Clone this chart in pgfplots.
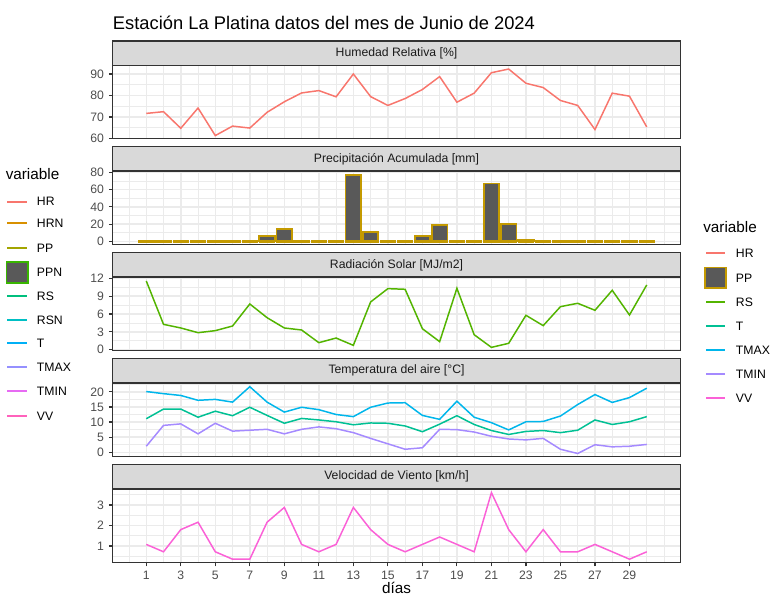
\documentclass[border=0pt]{standalone}
\usepackage{pgfplots}
\pgfplotsset{compat=1.18}
\usepackage{pgfplotstable}
\usepackage{fontspec}
\setmainfont{Liberation Sans}

% ggplot-style greys
\definecolor{grey92}{HTML}{EBEBEB}
\definecolor{grey85}{HTML}{D9D9D9}
\definecolor{grey35}{HTML}{595959}
\definecolor{grey30}{HTML}{4D4D4D}
\definecolor{grey20}{HTML}{333333}
\definecolor{grey10}{HTML}{1A1A1A}
% series colours (7-hue palette)
\definecolor{cHR}{HTML}{F8766D}
\definecolor{cPP}{HTML}{C49A00}
\definecolor{cRS}{HTML}{53B400}
\definecolor{cT}{HTML}{00C094}
\definecolor{cTMAX}{HTML}{00B6EB}
\definecolor{cTMIN}{HTML}{A58AFF}
\definecolor{cVV}{HTML}{FB61D7}
% left legend colours (10-hue palette)
\definecolor{lHR}{HTML}{F8766D}
\definecolor{lHRN}{HTML}{D89000}
\definecolor{lPP}{HTML}{A3A500}
\definecolor{lPPN}{HTML}{39B600}
\definecolor{lRS}{HTML}{00BF7D}
\definecolor{lRSN}{HTML}{00BFC4}
\definecolor{lT}{HTML}{00B0F6}
\definecolor{lTMAX}{HTML}{9590FF}
\definecolor{lTMIN}{HTML}{E76BF3}
\definecolor{lVV}{HTML}{FF62BC}

\newcommand{\pxu}{0.72pt}

% daily values, June 2024
\pgfplotstableread{
dia HR   PP   RS    T    TMAX TMIN VV
1   71.7 0    11.55 11.1 20.1 2.0  1.08
2   72.5 0    4.26  14.3 19.4 8.9  0.72
3   64.8 0    3.65  14.3 18.8 9.4  1.80
4   74.2 0    2.86  11.6 17.2 6.1  2.16
5   61.4 0    3.20  13.6 17.5 9.6  0.72
6   65.8 0    3.98  12.1 16.6 7.0  0.36
7   64.9 0    7.68  14.9 21.7 7.3  0.36
8   72.2 6.5  5.38  12.2 16.6 7.6  2.16
9   77.1 14.2 3.65  9.6  13.3 6.1  2.88
10  81.2 0    3.31  11.2 14.9 7.6  1.08
11  82.3 0    1.18  10.7 14.1 8.4  0.72
12  79.4 0    1.96  10.1 12.5 7.8  1.08
13  90.0 76.9 0.73  9.1  11.8 6.5  2.88
14  79.5 10.8 8.02  9.7  14.9 4.6  1.80
15  75.4 0    10.26 9.6  16.3 2.8  1.08
16  78.6 0    10.15 8.7  16.4 1.0  0.72
17  82.8 6.5  3.53  6.8  12.2 1.5  1.08
18  88.8 18.8 1.35  9.3  10.9 7.6  1.44
19  76.9 0    10.32 12.1 16.9 7.5  1.08
20  81.1 0    2.52  9.2  11.6 6.7  0.72
21  90.6 66.9 0.39  7.2  9.8  5.3  3.60
22  92.3 20.0 1.07  5.9  7.4  4.4  1.80
23  85.7 1.5  5.78  6.9  10.1 4.1  0.72
24  83.7 0    4.04  7.2  10.2 4.6  1.80
25  77.7 0    7.23  6.5  12.0 1.0  0.72
26  75.4 0    7.80  7.3  15.8 -0.4 0.72
27  64.2 0    6.62  10.7 19.1 2.5  1.08
28  81.1 0    9.98  9.2  16.5 1.8  0.72
29  79.7 0    5.83  10.1 18.1 2.0  0.36
30  65.4 0    10.88 11.8 21.2 2.6  0.72
}\datos

\pgfplotsset{
  panel/.style={
    anchor=north west,
    scale only axis, width=408.67pt, height=52.70pt,
    xmin=-0.945, xmax=31.945,
    xtick={1,3,...,29}, minor xtick={0,2,...,30,31},
    grid=both,
    major grid style={draw=grey92, line width=1.07pt},
    minor grid style={draw=grey92, line width=0.53pt},
    axis line style={draw=grey20, line width=0.85pt},
    tick align=outside, ytick pos=left, xtick pos=left,
    major tick length=2.75pt, minor tick length=0pt,
    tick style={draw=grey20, line width=0.85pt},
    tick label style={font=\fontsize{8.8}{10}\selectfont, text=grey30},
    /pgf/number format/assume math mode=true,
    every axis title/.style={at={(0.5,1)}, anchor=south, draw=grey20,
      fill=grey85, line width=0.85pt, minimum width=408.67pt,
      minimum height=17.42pt, inner sep=0pt, text=grey10,
      font=\fontsize{8.8}{10}\selectfont},
    every axis plot/.append style={line width=1.07pt},
  },
  inner/.style={xticklabels={}, xtick style={draw=none}},
}

\begin{document}
\begin{tikzpicture}
\path[use as bounding box] (0,0) rectangle (772*\pxu,-596*\pxu);

\node[anchor=base west, inner sep=0pt, font=\fontsize{13.2}{16}\selectfont]
  at (112.7*\pxu,-29.3*\pxu) {Estación La Platina datos del mes de Junio de 2024};

% Humedad relativa
\begin{axis}[panel, inner, at={(112.7*\pxu,-65.7*\pxu)},
  title={Humedad Relativa [\%]},
  ymin=59.86, ymax=93.85, ytick={60,70,80,90}, minor ytick={65,75,85}]
\addplot[cHR] table[x=dia, y=HR] {\datos};
\end{axis}

% Precipitación: rainy-day bars, and the gold base edge of every day's bar
\begin{axis}[panel, inner, at={(112.7*\pxu,-171.6*\pxu)},
  title={Precipitación Acumulada [mm]},
  ymin=-3.85, ymax=80.75, ytick={0,20,...,80}, minor ytick={10,30,50,70},
  unbounded coords=discard]
\addplot[cPP, only marks, mark=square*, mark size=5.4pt,
  mark options={fill=cPP, draw=none, yscale=0.13}]
  table[x=dia, y expr=0] {\datos};
\addplot[ybar, bar width=0.9, fill=grey35, draw=cPP, line width=1.3pt,
  y filter/.expression={y==0 ? nan : y}] table[x=dia, y=PP] {\datos};
\end{axis}

% Radiación solar
\begin{axis}[panel, inner, at={(112.7*\pxu,-277.5*\pxu)},
  title={Radiación Solar [MJ/m2]},
  ymin=-0.17, ymax=12.13, ytick={0,3,...,12}, minor ytick={1.5,4.5,7.5,10.5}]
\addplot[cRS] table[x=dia, y=RS] {\datos};
\end{axis}

% Temperatura
\begin{axis}[panel, inner, at={(112.7*\pxu,-383.4*\pxu)},
  title={Temperatura del aire [°C]},
  ymin=-1.43, ymax=22.79, ytick={0,5,...,20}, minor ytick={2.5,7.5,12.5,17.5,22.5}]
\addplot[cT] table[x=dia, y=T] {\datos};
\addplot[cTMAX] table[x=dia, y=TMAX] {\datos};
\addplot[cTMIN] table[x=dia, y=TMIN] {\datos};
\end{axis}

% Viento
\begin{axis}[panel, at={(112.7*\pxu,-489.3*\pxu)},
  title={Velocidad de Viento [km/h]},
  ymin=0.198, ymax=3.762, ytick={1,2,3}, minor ytick={0.5,1.5,2.5,3.5},
  xlabel={días}, xlabel style={font=\fontsize{11}{13}\selectfont, text=black, yshift=5pt}]
\addplot[cVV] table[x=dia, y=VV] {\datos};
\end{axis}

% left legend
\node[anchor=west, inner sep=0pt, font=\fontsize{11}{13}\selectfont] at (5.5*\pxu,-174*\pxu) {variable};
\foreach \lab/\col/\yy in {HR/lHR/201.7, HRN/lHRN/223.3, PP/lPP/248, RS/lRS/296,
    RSN/lRSN/320, T/lT/343.3, TMAX/lTMAX/367.3, TMIN/lTMIN/391.3, VV/lVV/416} {
  \draw[draw=\col, line width=1.4pt] (7.3*\pxu,-\yy*\pxu) -- (26.7*\pxu,-\yy*\pxu);
  \node[anchor=west, inner sep=0pt, font=\fontsize{8.8}{10}\selectfont] at (36.7*\pxu,-\yy*\pxu) {\lab};
}
\draw[fill=grey35, draw=lPPN, line width=1.3pt] (6.5*\pxu,-261.8*\pxu) rectangle (27.9*\pxu,-283.2*\pxu);
\node[anchor=west, inner sep=0pt, font=\fontsize{8.8}{10}\selectfont] at (36.7*\pxu,-272.3*\pxu) {PPN};

% right legend
\node[anchor=west, inner sep=0pt, font=\fontsize{11}{13}\selectfont] at (703*\pxu,-226.7*\pxu) {variable};
\foreach \lab/\col/\yy in {HR/cHR/253.3, RS/cRS/302.3, T/cT/326, TMAX/cTMAX/350,
    TMIN/cTMIN/374, VV/cVV/398.3} {
  \draw[draw=\col, line width=1.4pt] (706*\pxu,-\yy*\pxu) -- (725.3*\pxu,-\yy*\pxu);
  \node[anchor=west, inner sep=0pt, font=\fontsize{8.8}{10}\selectfont] at (735.7*\pxu,-\yy*\pxu) {\lab};
}
\draw[fill=grey35, draw=cPP, line width=1.3pt] (704.8*\pxu,-267.5*\pxu) rectangle (725.9*\pxu,-288.2*\pxu);
\node[anchor=west, inner sep=0pt, font=\fontsize{8.8}{10}\selectfont] at (735.7*\pxu,-277.9*\pxu) {PP};
\end{tikzpicture}
\end{document}
